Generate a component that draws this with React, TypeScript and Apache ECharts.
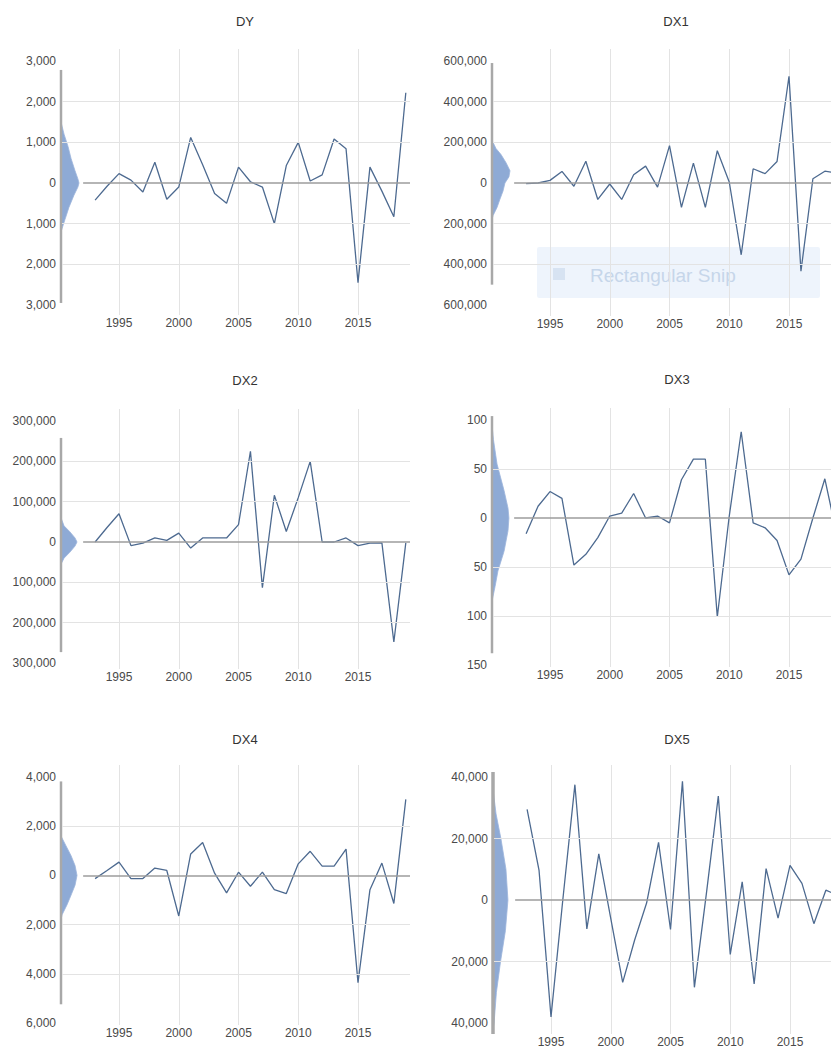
import React, { useEffect, useRef } from "react";
import * as echarts from "echarts";

// Annual first differences, 1993-2019
const years = [
  1993, 1994, 1995, 1996, 1997, 1998, 1999, 2000, 2001, 2002, 2003, 2004, 2005, 2006,
  2007, 2008, 2009, 2010, 2011, 2012, 2013, 2014, 2015, 2016, 2017, 2018, 2019,
];

const dy = [
  -420, -80, 230, 70, -220, 510, -400, -100, 1120, 450, -260, -500, 390, 30, -100, -1000,
  430, 1000, 50, 200, 1080, 840, -2450, 390, -200, -830, 2220,
];
const dx1 = [
  -3000, 0, 13000, 57000, -16000, 107000, -81000, -5000, -81000, 41000, 83000, -20000,
  184000, -120000, 98000, -120000, 159000, 5000, -353000, 70000, 46000, 106000, 525000,
  -434000, 21000, 58000, 50000,
];
const dx2 = [
  0, 36000, 70000, -9000, -3000, 10000, 4000, 22000, -15000, 10000, 10000, 10000, 43000,
  225000, -113000, 116000, 26000, 110000, 200000, 0, 0, 10000, -9000, -3000, -2000,
  -248000, -2000,
];
const dx3 = [
  -16, 12, 27, 20, -48, -37, -20, 2, 5, 25, 0, 2, -5, 39, 60, 60, -101, 2, 88, -5, -10,
  -23, -58, -42, 0, 40, -17,
];
const dx4 = [
  -130, 200, 540, -130, -130, 300, 200, -1650, 870, 1340, 90, -710, 130, -440, 130, -580,
  -740, 470, 980, 380, 380, 1070, -4360, -580, 500, -1140, 3090,
];
const dx5 = [
  29500, 9600, -38000, 500, 37500, -9400, 15000, -6000, -26800, -13000, -1000, 18750,
  -9600, 38600, -28400, 2000, 33800, -17700, 5900, -27300, 10200, -5900, 11250, 5400,
  -7700, 3200, 1500,
];

// Value-axis ticks of each panel
const dyTicks = [-3000, -2000, -1000, 0, 1000, 2000, 3000];
const dx1Ticks = [-600000, -400000, -200000, 0, 200000, 400000, 600000];
const dx2Ticks = [-300000, -200000, -100000, 0, 100000, 200000, 300000];
const dx3Ticks = [-150, -100, -50, 0, 50, 100];
const dx4Ticks = [-6000, -4000, -2000, 0, 2000, 4000];
const dx5Ticks = [-40000, -20000, 0, 20000, 40000];

const yearTicks = [1995, 2000, 2005, 2010, 2015];

// Marginal density of each series: [value, relative density]
const dyDensity = [
  [1500, 0], [1200, 0.17], [900, 0.39], [600, 0.56], [300, 0.78], [100, 0.94], [0, 1.0],
  [-100, 0.94], [-300, 0.72], [-600, 0.44], [-900, 0.22], [-1200, 0],
];
const dx1Density = [
  [210000, 0], [170000, 0.22], [140000, 0.5], [100000, 0.78], [60000, 1.0], [30000, 0.94],
  [0, 0.72], [-40000, 0.61], [-80000, 0.44], [-120000, 0.28], [-160000, 0.06], [-180000, 0],
];
const dx2Density = [
  [60000, 0], [40000, 0.17], [25000, 0.5], [10000, 0.78], [0, 0.89], [-10000, 0.78],
  [-25000, 0.5], [-40000, 0.17], [-55000, 0],
];
const dx3Density = [
  [95, 0], [80, 0.08], [55, 0.28], [28, 0.67], [10, 0.89], [0, 0.94], [-13, 0.89],
  [-34, 0.67], [-54, 0.33], [-70, 0.17], [-85, 0],
];
const dx4Density = [
  [1600, 0], [1200, 0.28], [800, 0.56], [400, 0.78], [0, 0.89], [-400, 0.78], [-800, 0.56],
  [-1200, 0.33], [-1600, 0.06], [-1800, 0],
];
const dx5Density = [
  [36000, 0], [28000, 0.17], [20000, 0.44], [10000, 0.72], [0, 0.83], [-10000, 0.69],
  [-20000, 0.42], [-30000, 0.19], [-40000, 0.06], [-42000, 0],
];

// Extent of the density axis bar: [top value, bottom value]
const dySpan = [2780, -2950];
const dx1Span = [590000, -500000];
const dx2Span = [258000, -273000];
const dx3Span = [104, -138];
const dx4Span = [3820, -5240];
const dx5Span = [41600, -43600];

const PX_PER_YEAR = 11.95;
const LINE_COLOR = "#4d6a90";
const GRID_COLOR = "#e3e3e3";
const TEXT_COLOR = "#4a4a4a";
const FONT = "Liberation Sans, Arial, sans-serif";
const CANVAS_W = 880; // wider than the view so the right column runs past its edge
const VIEW_W = 831;
const VIEW_H = 1054;

type Panel = {
  title: string;
  values: number[];
  ticks: number[];
  density: number[][];
  span: number[];
  axisX: number;
  axisW: number;
  yTop: number;
  yBot: number;
  xLabelY: number;
  titleX: number;
  titleY: number;
};

const panels: Panel[] = [
  { title: "DY", values: dy, ticks: dyTicks, density: dyDensity, span: dySpan,
    axisX: 61, axisW: 2.5, yTop: 61, yBot: 305, xLabelY: 323, titleX: 245, titleY: 21 },
  { title: "DX1", values: dx1, ticks: dx1Ticks, density: dx1Density, span: dx1Span,
    axisX: 492, axisW: 2.5, yTop: 61, yBot: 305, xLabelY: 324, titleX: 676, titleY: 21 },
  { title: "DX2", values: dx2, ticks: dx2Ticks, density: dx2Density, span: dx2Span,
    axisX: 61, axisW: 2.5, yTop: 421, yBot: 663, xLabelY: 677, titleX: 245, titleY: 380 },
  { title: "DX3", values: dx3, ticks: dx3Ticks, density: dx3Density, span: dx3Span,
    axisX: 492, axisW: 2.5, yTop: 420, yBot: 665, xLabelY: 675, titleX: 677, titleY: 379 },
  { title: "DX4", values: dx4, ticks: dx4Ticks, density: dx4Density, span: dx4Span,
    axisX: 61, axisW: 2.5, yTop: 777, yBot: 1023, xLabelY: 1033, titleX: 245, titleY: 739 },
  { title: "DX5", values: dx5, ticks: dx5Ticks, density: dx5Density, span: dx5Span,
    axisX: 493, axisW: 3.5, yTop: 777, yBot: 1023, xLabelY: 1042, titleX: 677, titleY: 739 },
];

const withCommas = (v: number) =>
  String(Math.abs(v)).replace(/\B(?=(\d{3})+(?!\d))/g, ",");

function buildOption() {
  const grid: any[] = [];
  const xAxis: any[] = [];
  const yAxis: any[] = [];
  const series: any[] = [];
  const graphic: any[] = [];

  panels.forEach((p) => {
    const yMin = p.ticks[0];
    const yMax = p.ticks[p.ticks.length - 1];
    const interval = p.ticks[1] - p.ticks[0];
    const x1995 = p.axisX + 58;

    // grid A: year gridlines and year labels
    const gA = grid.length;
    const aLeft = x1995 - 5 * PX_PER_YEAR;
    grid.push({
      left: aLeft,
      top: p.yTop - 12,
      width: 30 * PX_PER_YEAR,
      height: p.xLabelY - 8 - (p.yTop - 12),
    });
    xAxis.push({
      gridIndex: gA,
      type: "value",
      min: 1990,
      max: 2020,
      interval: 5,
      axisLine: { show: false },
      axisTick: { show: false },
      axisLabel: {
        show: true,
        margin: 2,
        showMinLabel: false,
        showMaxLabel: false,
        color: TEXT_COLOR,
        fontSize: 12,
        fontFamily: FONT,
        formatter: (v: number) => (yearTicks.includes(v) ? String(v) : ""),
      },
      splitLine: {
        show: true,
        showMinLine: false,
        showMaxLine: false,
        lineStyle: { color: GRID_COLOR, width: 1 },
      },
    });
    yAxis.push({ gridIndex: gA, type: "value", min: 0, max: 1, show: false });

    // grid B: the series itself with value labels
    const gB = grid.length;
    const bLeft = p.axisX + 1;
    const bWidth = 348;
    const xbMin = 1995 - (x1995 - bLeft) / PX_PER_YEAR;
    const xbMax = xbMin + bWidth / PX_PER_YEAR;
    grid.push({ left: bLeft, top: p.yTop, width: bWidth, height: p.yBot - p.yTop });
    xAxis.push({ gridIndex: gB, type: "value", min: xbMin, max: xbMax, show: false });
    yAxis.push({
      gridIndex: gB,
      type: "value",
      min: yMin,
      max: yMax,
      interval,
      axisLine: { show: false },
      axisTick: { show: false },
      splitLine: { show: false },
      axisLabel: {
        margin: 6,
        color: TEXT_COLOR,
        fontSize: 12,
        fontFamily: FONT,
        formatter: (v: number) => withCommas(v),
      },
    });

    // grid C: marginal density along the value axis
    const gC = grid.length;
    grid.push({ left: p.axisX, top: p.yTop, width: 18, height: p.yBot - p.yTop });
    xAxis.push({ gridIndex: gC, type: "value", min: 0, max: 1, show: false });
    yAxis.push({ gridIndex: gC, type: "value", min: yMin, max: yMax, show: false });

    const inner = p.ticks.filter((t) => t !== 0 && t !== yMin && t !== yMax);

    series.push({
      type: "line",
      name: p.title + " grid",
      xAxisIndex: gB,
      yAxisIndex: gB,
      data: [],
      z: 1,
      silent: true,
      markLine: {
        silent: true,
        symbol: ["none", "none"],
        label: { show: false },
        lineStyle: { color: GRID_COLOR, width: 1, type: "solid" },
        data: [
          ...inner.map((t) => ({ yAxis: t })),
          [
            { coord: [1992, 0], lineStyle: { color: "#9c9c9c", width: 1.5, type: "solid" } },
            { coord: [xbMax, 0] },
          ],
        ],
      },
    });

    series.push({
      type: "line",
      name: p.title,
      xAxisIndex: gB,
      yAxisIndex: gB,
      data: years.map((y, i) => [y, p.values[i]]),
      showSymbol: false,
      symbol: "none",
      z: 3,
      lineStyle: { color: LINE_COLOR, width: 1.3 },
    });

    const dens = p.density;
    const span = p.span;
    const axisW = p.axisW;
    series.push({
      type: "custom",
      name: p.title + " density",
      xAxisIndex: gC,
      yAxisIndex: gC,
      data: dens.map(([v, d]) => [d, v]),
      encode: { x: 0, y: 1 },
      silent: true,
      z: 2,
      renderItem: (params: any, api: any) => {
        if (params.dataIndex !== 0) return null;
        const pts = dens.map(([v, d]) => api.coord([d, v]));
        const start = api.coord([0, dens[0][0]]);
        const end = api.coord([0, dens[dens.length - 1][0]]);
        const top = api.coord([0, span[0]]);
        const bot = api.coord([0, span[1]]);
        return {
          type: "group",
          children: [
            {
              type: "polygon",
              shape: { points: [start, ...pts, end] },
              style: { fill: "#8eaad5", stroke: "#9db5dc", lineWidth: 0.8 },
            },
            {
              type: "line",
              shape: { x1: top[0], y1: top[1], x2: bot[0], y2: bot[1] },
              style: { stroke: "#a8a8a8", lineWidth: axisW },
            },
          ],
        };
      },
    });

    graphic.push({
      type: "text",
      x: p.titleX,
      y: p.titleY,
      style: {
        text: p.title,
        fill: "#333333",
        font: `13px ${FONT}`,
        textAlign: "center",
        textVerticalAlign: "middle",
      },
    });
  });

  // screen-capture hint box lying over the DX1 panel
  graphic.push(
    {
      type: "rect",
      shape: { x: 537, y: 247, width: 283, height: 51, r: 2 },
      style: { fill: "rgba(226,237,250,0.6)" },
      z: 0,
    },
    {
      type: "rect",
      shape: { x: 553, y: 268, width: 12, height: 12 },
      style: { fill: "rgba(205,220,238,0.7)" },
      z: 0,
    },
    {
      type: "text",
      x: 590,
      y: 275,
      style: {
        text: "Rectangular Snip",
        fill: "#c6d6ea",
        font: `19px ${FONT}`,
        textVerticalAlign: "middle",
      },
      z: 0,
    }
  );

  return {
    animation: false,
    backgroundColor: "#ffffff",
    grid,
    xAxis,
    yAxis,
    series,
    graphic,
  };
}

export default function App() {
  const ref = useRef<HTMLDivElement>(null);

  useEffect(() => {
    if (!ref.current) return;
    const chart = echarts.init(ref.current, undefined, { renderer: "svg" });
    chart.setOption(buildOption());
    return () => chart.dispose();
  }, []);

  return (
    <div
      style={{
        position: "fixed",
        left: 0,
        top: 0,
        width: VIEW_W,
        height: VIEW_H,
        overflow: "hidden",
        background: "#fff",
      }}
    >
      <div ref={ref} style={{ width: CANVAS_W, height: VIEW_H }} />
    </div>
  );
}
